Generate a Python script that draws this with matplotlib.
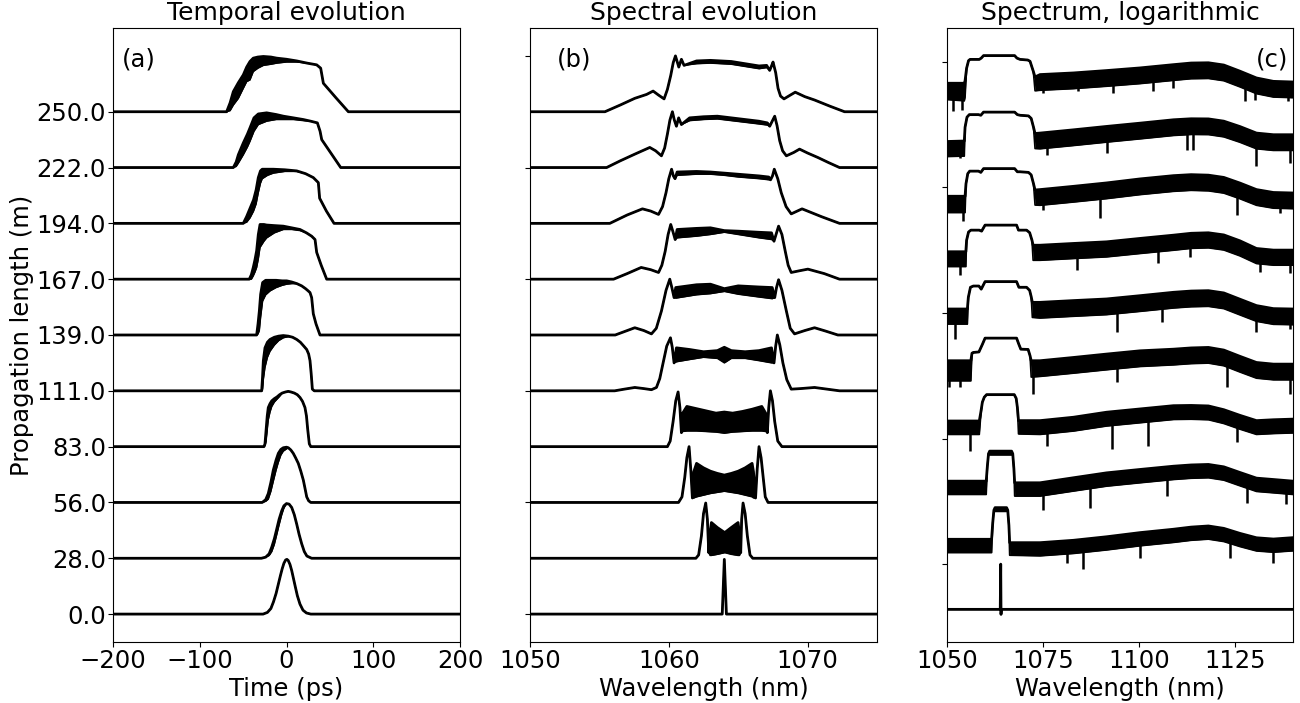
import numpy as np
import matplotlib
matplotlib.use("Agg")
import matplotlib.pyplot as plt

plt.rcParams['font.family'] = ['DejaVu Sans']
plt.rcParams['font.size'] = 17.5
plt.rcParams['axes.titlesize'] = 18
plt.rcParams['xtick.major.pad'] = 1.5
plt.rcParams['ytick.major.pad'] = 1.5

# propagation lengths (m) of the 10 traces, bottom to top
lengths = [0.0, 28.0, 56.0, 83.0, 111.0, 139.0, 167.0, 194.0, 222.0, 250.0]

# ---------------- (a) temporal evolution: time (ps), normalised power (upper / lower edge of the trace)
time_a = [
    [-200, -27, -22, -18, -15, -12, -9.5, -7, -5, -3, -1, 0.5, 2, 4, 6, 8, 10, 12.5, 15.5, 19, 23, 28, 200],
    [-200, -29, -24, -20, -17, -14, -11.3, -8.5, -5.5, -3, 0, 3, 6, 9, 11.8, 14.5, 17.5, 20.5, 23.5, 29, 200],
    [-200, -28, -24, -21, -18, -15.2, -12, -9.4, -6.5, -3.7, 0, 2.1, 5, 7.8, 10.5, 13.6, 16.5, 19.4, 21.5, 23.3, 25.5, 28, 200],
    [-200, -26, -24.8, -23.5, -22.2, -21, -19, -17, -14, -11, -8, -5, -1, 2, 5, 9, 12.5, 15.6, 18.5, 21.3, 23, 24.5, 26.3, 28, 200],
    [-200, -28.6, -27.6, -26.7, -24.8, -22, -19, -14, -9, -3.7, 2, 7, 11.8, 16, 20, 23.3, 25.5, 27.1, 28.5, 29.8, 32, 200],
    [-200, -34.4, -32.8, -31.3, -29.8, -27.5, -24, -19, -12, -5, 0.2, 6, 12, 17.5, 22, 25, 27.1, 29, 30.9, 34, 38.6, 200],
    [-200, -42.9, -40.5, -38.3, -36.3, -34.4, -32.5, -30.5, -26, -22.9, -14, -3.7, 6, 15.6, 23, 29, 32.9, 34.8, 40, 46.3, 200],
    [-200, -49.8, -46, -42, -38, -35, -32.5, -30, -28, -22, -15.2, -2, 11.8, 22, 30.9, 36.7, 38.2, 46, 54.8, 200],
    [-200, -61.3, -58, -55.5, -49.8, -45, -42.1, -37.5, -32.5, -22.9, -12, -3.6, 8, 19.4, 28, 35.6, 38.7, 40.6, 52, 62.5, 200],
    [-200, -69, -65, -61.3, -55.5, -49.8, -45.9, -42.1, -38.3, -33, -26.7, -18, -11.3, 0, 11.8, 24, 34.8, 39.4, 42.5, 57, 71.3, 200],
]
power_a_hi = [
    [0, 0, 0.03, 0.1, 0.22, 0.37, 0.53, 0.69, 0.81, 0.91, 0.97, 0.98, 0.96, 0.89, 0.78, 0.64, 0.5, 0.33, 0.18, 0.07, 0.02, 0, 0],
    [0, 0, 0.02, 0.08, 0.2, 0.35, 0.52, 0.7, 0.85, 0.94, 0.98, 0.97, 0.91, 0.78, 0.61, 0.43, 0.26, 0.12, 0.04, 0, 0],
    [0, 0, 0.05, 0.16, 0.36, 0.58, 0.76, 0.88, 0.95, 0.98, 0.99, 0.98, 0.94, 0.88, 0.8, 0.7, 0.56, 0.4, 0.24, 0.1, 0.03, 0, 0],
    [0, 0, 0.05, 0.3, 0.55, 0.7, 0.77, 0.82, 0.86, 0.89, 0.93, 0.96, 0.98, 0.99, 0.98, 0.96, 0.93, 0.88, 0.81, 0.7, 0.55, 0.3, 0.05, 0, 0],
    [0, 0, 0.25, 0.54, 0.77, 0.87, 0.92, 0.96, 0.98, 0.99, 0.98, 0.96, 0.92, 0.87, 0.8, 0.74, 0.66, 0.54, 0.3, 0.03, 0, 0],
    [0, 0, 0.2, 0.43, 0.73, 0.94, 0.98, 0.98, 0.98, 0.97, 0.97, 0.95, 0.92, 0.88, 0.83, 0.79, 0.76, 0.67, 0.38, 0.2, 0, 0],
    [0, 0, 0.08, 0.21, 0.35, 0.51, 0.8, 0.98, 0.98, 0.97, 0.96, 0.95, 0.92, 0.89, 0.83, 0.77, 0.71, 0.48, 0.25, 0, 0],
    [0, 0, 0.12, 0.27, 0.42, 0.6, 0.82, 0.94, 0.97, 0.97, 0.97, 0.96, 0.94, 0.89, 0.82, 0.73, 0.45, 0.22, 0, 0],
    [0, 0, 0.1, 0.23, 0.44, 0.6, 0.71, 0.89, 0.96, 0.98, 0.95, 0.92, 0.89, 0.86, 0.83, 0.8, 0.65, 0.5, 0.24, 0, 0],
    [0, 0, 0.16, 0.36, 0.52, 0.66, 0.8, 0.9, 0.96, 0.98, 0.99, 0.98, 0.96, 0.94, 0.91, 0.87, 0.84, 0.78, 0.51, 0.25, 0, 0],
]
power_a_lo = [
    [0, 0, 0.03, 0.1, 0.22, 0.37, 0.53, 0.69, 0.81, 0.91, 0.97, 0.98, 0.96, 0.89, 0.78, 0.64, 0.5, 0.33, 0.18, 0.07, 0.02, 0, 0],
    [0, 0, 0.02, 0.05, 0.12, 0.25, 0.42, 0.6, 0.78, 0.9, 0.98, 0.97, 0.91, 0.78, 0.61, 0.43, 0.26, 0.12, 0.04, 0, 0],
    [0, 0, 0.02, 0.06, 0.2, 0.38, 0.58, 0.72, 0.85, 0.92, 0.96, 0.98, 0.94, 0.88, 0.8, 0.7, 0.56, 0.4, 0.24, 0.1, 0.03, 0, 0],
    [0, 0, 0.02, 0.1, 0.3, 0.48, 0.62, 0.72, 0.8, 0.85, 0.9, 0.96, 0.98, 0.99, 0.98, 0.96, 0.93, 0.88, 0.81, 0.7, 0.55, 0.3, 0.05, 0, 0],
    [0, 0, 0.03, 0.2, 0.42, 0.6, 0.71, 0.82, 0.9, 0.95, 0.97, 0.96, 0.92, 0.87, 0.8, 0.74, 0.66, 0.54, 0.3, 0.03, 0, 0],
    [0, 0, 0.02, 0.08, 0.32, 0.61, 0.72, 0.79, 0.85, 0.89, 0.91, 0.92, 0.92, 0.88, 0.83, 0.79, 0.76, 0.67, 0.38, 0.2, 0, 0],
    [0, 0, 0, 0.06, 0.13, 0.21, 0.36, 0.57, 0.68, 0.74, 0.83, 0.89, 0.89, 0.87, 0.83, 0.77, 0.71, 0.48, 0.25, 0, 0],
    [0, 0, 0.02, 0.1, 0.22, 0.35, 0.55, 0.72, 0.8, 0.86, 0.9, 0.93, 0.93, 0.89, 0.82, 0.73, 0.45, 0.22, 0, 0],
    [0, 0, 0.02, 0.08, 0.23, 0.37, 0.47, 0.65, 0.77, 0.83, 0.86, 0.86, 0.86, 0.84, 0.83, 0.8, 0.65, 0.5, 0.24, 0, 0],
    [0, 0, 0.02, 0.12, 0.24, 0.42, 0.54, 0.57, 0.72, 0.78, 0.83, 0.85, 0.87, 0.89, 0.89, 0.87, 0.84, 0.78, 0.51, 0.25, 0, 0],
]

# ---------------- (b) spectral evolution: wavelength (nm), normalised spectrum (upper / lower edge)
wl_b = [
    [1050, 1063.85, 1064.0, 1064.15, 1075],
    [1050, 1061.95, 1062.15, 1062.35, 1062.5, 1062.66, 1062.78, 1062.88, 1062.97, 1063.07, 1063.5, 1064.03,
     1064.5, 1064.99, 1065.09, 1065.18, 1065.25, 1065.35, 1065.5, 1065.66, 1065.85, 1066.05, 1075],
    [1050, 1060.7, 1060.95, 1061.15, 1061.3, 1061.46, 1061.58, 1061.7, 1061.8, 1062.0, 1062.5, 1063.0, 1063.5,
     1064.0, 1064.5, 1065.0, 1065.5, 1066.0, 1066.1, 1066.25, 1066.37, 1066.5, 1066.65, 1066.8, 1066.95, 1067.15, 1075],
    [1050, 1059.9, 1060.1, 1060.31, 1060.5, 1060.67, 1060.8, 1060.91, 1061.0, 1061.3, 1062.0, 1062.7, 1063.4,
     1064.0, 1064.6, 1065.3, 1066.0, 1066.7, 1066.98, 1067.1, 1067.2, 1067.32, 1067.47, 1067.63, 1067.85, 1068.15, 1075],
    [1050, 1056.1, 1056.8, 1057.55, 1058.2, 1058.75, 1059.11, 1059.35, 1059.59, 1059.85, 1060.12, 1060.25, 1060.38,
     1060.55, 1061.5, 1062.5, 1063.5, 1064.0, 1064.5, 1065.5, 1066.5, 1067.4, 1067.58, 1067.7, 1067.82, 1068.0,
     1068.22, 1068.5, 1068.82, 1069.5, 1070.5, 1071.4, 1072.3, 1075],
    [1050, 1056.14, 1056.9, 1057.55, 1058.2, 1058.75, 1059.1, 1059.47, 1059.8, 1060.07, 1060.22, 1060.38, 1060.5,
     1062.0, 1063.0, 1064.0, 1065.0, 1066.5, 1067.45, 1067.63, 1067.76, 1067.91, 1068.15, 1068.47, 1068.75, 1069.06,
     1069.8, 1070.5, 1071.3, 1072.18, 1075],
    [1050, 1056.02, 1057.0, 1058.01, 1058.7, 1059.26, 1059.5, 1059.74, 1059.95, 1060.14, 1060.3, 1060.46, 1060.6,
     1062.0, 1063.0, 1064.0, 1065.0, 1066.5, 1067.4, 1067.58, 1067.75, 1067.91, 1068.15, 1068.39, 1068.6, 1068.82,
     1069.4, 1070.02, 1071.2, 1072.3, 1075],
    [1050, 1055.75, 1057.0, 1058.1, 1058.7, 1059.26, 1059.55, 1059.8, 1060.0, 1060.2, 1060.33, 1060.45, 1060.6,
     1062.0, 1063.0, 1064.0, 1065.0, 1066.5, 1067.2, 1067.33, 1067.47, 1067.6, 1067.85, 1068.1, 1068.45, 1068.82,
     1069.6, 1071.0, 1072.3, 1075],
    [1050, 1055.52, 1056.5, 1057.55, 1058.63, 1059.05, 1059.47, 1059.7, 1059.9, 1060.08, 1060.26, 1060.4, 1060.55,
     1060.71, 1060.91, 1061.5, 1062.5, 1063.5, 1064.5, 1065.5, 1066.5, 1067.1, 1067.27, 1067.45, 1067.63, 1067.8,
     1067.99, 1068.2, 1068.47, 1069.0, 1069.42, 1070.0, 1070.74, 1071.5, 1072.3, 1075],
    [1050, 1055.4, 1056.5, 1057.55, 1058.4, 1058.87, 1059.25, 1059.66, 1059.9, 1060.14, 1060.32, 1060.48, 1060.6,
     1060.72, 1060.91, 1061.1, 1062.0, 1063.0, 1064.5, 1065.5, 1066.5, 1067.05, 1067.27, 1067.4, 1067.51, 1067.7,
     1067.87, 1068.05, 1068.3, 1068.7, 1069.11, 1069.8, 1070.5, 1071.6, 1072.66, 1075],
]
spec_b_hi = [
    [0, 0, 0.98, 0, 0],
    [0, 0, 0.06, 0.4, 0.8, 0.99, 0.7, 0.1, 0.45, 0.64, 0.55, 0.46, 0.55, 0.64, 0.45, 0.1, 0.7, 0.99, 0.8, 0.4, 0.06, 0, 0],
    [0, 0, 0.1, 0.45, 0.8, 1.0, 0.6, 0.08, 0.55, 0.7, 0.62, 0.56, 0.52, 0.49, 0.52, 0.56, 0.62, 0.7, 0.55, 0.08,
     0.6, 1.0, 0.8, 0.45, 0.1, 0, 0],
    [0, 0, 0.1, 0.45, 0.82, 0.98, 0.7, 0.25, 0.6, 0.72, 0.68, 0.64, 0.6, 0.62, 0.6, 0.63, 0.67, 0.72, 0.6, 0.25,
     0.7, 1.0, 0.82, 0.45, 0.1, 0, 0],
    [0, 0, 0.03, 0.06, 0.04, 0.02, 0.06, 0.22, 0.5, 0.8, 0.95, 0.78, 0.5, 0.77, 0.74, 0.7, 0.72, 0.78, 0.72, 0.7,
     0.72, 0.77, 0.5, 0.8, 1.0, 0.82, 0.5, 0.2, 0.03, 0.04, 0.06, 0.03, 0, 0],
    [0, 0, 0.07, 0.13, 0.08, 0.02, 0.12, 0.43, 0.8, 1.0, 0.85, 0.67, 0.85, 0.9, 0.91, 0.83, 0.88, 0.86, 0.85, 0.67,
     0.85, 0.99, 0.8, 0.43, 0.12, 0.02, 0.08, 0.13, 0.07, 0, 0],
    [0, 0, 0.1, 0.21, 0.17, 0.12, 0.25, 0.5, 0.8, 0.98, 0.85, 0.71, 0.89, 0.91, 0.92, 0.87, 0.86, 0.84, 0.83, 0.68,
     0.82, 0.95, 0.8, 0.5, 0.25, 0.12, 0.15, 0.18, 0.1, 0, 0],
    [0, 0, 0.15, 0.26, 0.22, 0.16, 0.3, 0.55, 0.8, 0.97, 0.85, 0.8, 0.92, 0.93, 0.92, 0.9, 0.88, 0.85, 0.83, 0.78,
     0.85, 0.97, 0.8, 0.55, 0.3, 0.17, 0.26, 0.12, 0, 0],
    [0, 0, 0.12, 0.24, 0.36, 0.3, 0.21, 0.35, 0.6, 0.85, 1.0, 0.85, 0.74, 0.89, 0.77, 0.89, 0.91, 0.92, 0.89, 0.86,
     0.83, 0.8, 0.74, 0.83, 0.92, 0.75, 0.48, 0.3, 0.21, 0.27, 0.33, 0.26, 0.18, 0.09, 0, 0],
    [0, 0, 0.12, 0.24, 0.31, 0.37, 0.3, 0.23, 0.4, 0.65, 0.88, 1.0, 0.9, 0.8, 0.94, 0.83, 0.91, 0.92, 0.9, 0.86,
     0.82, 0.83, 0.74, 0.82, 0.89, 0.7, 0.42, 0.28, 0.23, 0.29, 0.35, 0.27, 0.21, 0.1, 0, 0],
]
spec_b_lo = [
    [0, 0, 0.98, 0, 0],
    [0, 0, 0.06, 0.4, 0.8, 0.99, 0.7, 0.1, 0.05, 0.05, 0.07, 0.1, 0.07, 0.05, 0.05, 0.1, 0.7, 0.99, 0.8, 0.4, 0.06, 0, 0],
    [0, 0, 0.1, 0.45, 0.8, 1.0, 0.6, 0.08, 0.08, 0.1, 0.13, 0.16, 0.18, 0.2, 0.18, 0.16, 0.13, 0.1, 0.08, 0.08,
     0.6, 1.0, 0.8, 0.45, 0.1, 0, 0],
    [0, 0, 0.1, 0.45, 0.82, 0.98, 0.7, 0.25, 0.27, 0.28, 0.28, 0.27, 0.26, 0.24, 0.26, 0.27, 0.28, 0.28, 0.27, 0.25,
     0.7, 1.0, 0.82, 0.45, 0.1, 0, 0],
    [0, 0, 0.03, 0.06, 0.04, 0.02, 0.06, 0.22, 0.5, 0.8, 0.95, 0.78, 0.5, 0.52, 0.56, 0.6, 0.58, 0.5, 0.58, 0.58,
     0.54, 0.5, 0.5, 0.8, 1.0, 0.82, 0.5, 0.2, 0.03, 0.04, 0.06, 0.03, 0, 0],
    [0, 0, 0.07, 0.13, 0.08, 0.02, 0.12, 0.43, 0.8, 1.0, 0.85, 0.67, 0.66, 0.72, 0.74, 0.78, 0.73, 0.68, 0.65, 0.67,
     0.85, 0.99, 0.8, 0.43, 0.12, 0.02, 0.08, 0.13, 0.07, 0, 0],
    [0, 0, 0.1, 0.21, 0.17, 0.12, 0.25, 0.5, 0.8, 0.98, 0.85, 0.71, 0.74, 0.77, 0.8, 0.84, 0.8, 0.74, 0.71, 0.68,
     0.82, 0.95, 0.8, 0.5, 0.25, 0.12, 0.15, 0.18, 0.1, 0, 0],
    [0, 0, 0.15, 0.26, 0.22, 0.16, 0.3, 0.55, 0.8, 0.97, 0.85, 0.8, 0.86, 0.88, 0.88, 0.86, 0.83, 0.8, 0.78, 0.78,
     0.85, 0.97, 0.8, 0.55, 0.3, 0.17, 0.26, 0.12, 0, 0],
    [0, 0, 0.12, 0.24, 0.36, 0.3, 0.21, 0.35, 0.6, 0.85, 1.0, 0.85, 0.74, 0.89, 0.77, 0.84, 0.86, 0.87, 0.84, 0.81,
     0.78, 0.76, 0.74, 0.83, 0.92, 0.75, 0.48, 0.3, 0.21, 0.27, 0.33, 0.26, 0.18, 0.09, 0, 0],
    [0, 0, 0.12, 0.24, 0.31, 0.37, 0.3, 0.23, 0.4, 0.65, 0.88, 1.0, 0.9, 0.8, 0.94, 0.83, 0.86, 0.87, 0.85, 0.81,
     0.77, 0.79, 0.74, 0.82, 0.89, 0.7, 0.42, 0.28, 0.23, 0.29, 0.35, 0.27, 0.21, 0.1, 0, 0],
]

# ---------------- (c) logarithmic spectrum: levels in dB relative to each trace's peak
db_step = 45
# pump part of every trace (wavelength, level, noise-band depth)
wl_c_pump = [
    [1050, 1063.85, 1063.97, 1064.05, 1064.12, 1140],
    [1050, 1061.6, 1061.9, 1062.2, 1062.5, 1065.5, 1065.8, 1066.1, 1066.3],
    [1050, 1060.2, 1060.5, 1060.8, 1061.1, 1066.8, 1067.1, 1067.4, 1067.6],
    [1050, 1058.4, 1058.8, 1059.2, 1059.7, 1060.3, 1067.5, 1068.0, 1068.3, 1068.6],
    [1050, 1056.2, 1056.5, 1056.85, 1058.3, 1059.2, 1059.9, 1068.1, 1068.7, 1069.2, 1071.1, 1071.6, 1071.9],
    [1050, 1055.3, 1055.55, 1056.1, 1056.85, 1058.3, 1058.9, 1059.9, 1068.1, 1068.7, 1070.7, 1071.5, 1071.9, 1072.2],
    [1050, 1054.9, 1055.1, 1055.6, 1056.2, 1058.4, 1059.0, 1059.9, 1068.1, 1068.6, 1070.7, 1071.5, 1072.1, 1072.4],
    [1050, 1054.7, 1054.94, 1055.4, 1055.9, 1058.2, 1058.8, 1059.5, 1067.6, 1068.3, 1069.0, 1071.2, 1071.9, 1072.5, 1072.9],
    [1050, 1054.5, 1054.7, 1055.2, 1055.8, 1058.2, 1058.8, 1059.5, 1067.6, 1068.3, 1069.0, 1071.2, 1071.9, 1072.5, 1072.9],
    [1050, 1054.5, 1054.7, 1055.1, 1055.6, 1056.0, 1058.4, 1058.9, 1059.5, 1067.6, 1068.2, 1069.0, 1071.0, 1071.6,
     1072.45, 1072.9],
]
level_c_pump = [
    [-36, -36, 0, -40, -36, -36],
    [-25.2, -25.2, -12, -2, 0, 0, -2, -14, -27.9],
    [-23.9, -23.9, -12, -2, 0, 0, -2, -14, -25.2],
    [-21, -21, -14, -6, -2, 0, 0, -3, -10, -20.7],
    [-18, -18, -12, -11.4, -11, -5, 0, 0, -5, -8.8, -9, -14, -18],
    [-21.8, -21.8, -12.5, -4.5, -3.5, -3.5, -6, 0, 0, -4.5, -4.5, -7, -12, -16.5],
    [-21.2, -21.2, -12, -5.5, -4, -4, -4.8, 0, 0, -4, -4, -6, -12, -16],
    [-22, -22, -12, -4, -2, -2, -3, 0, 0, -2.5, -2.5, -3, -5, -12, -17],
    [-23.4, -23, -12, -4, -2, -2, -2.5, 0, 0, -2, -2.5, -3, -5, -12, -17],
    [-22, -22, -20, -10, -4, -3, -3, -2, 0, 0, -2, -3, -3.5, -4.5, -12.5, -17],
]
depth_c_pump = [
    [0, 0, 0, 0, 0, 0],
    [10.6, 10.6, 0, 0, 3, 3, 0, 0, 10],
    [10.6, 10.6, 0, 0, 3, 3, 0, 0, 10.6],
    [10.7, 10.7, 2, 0, 0, 0, 0, 0, 0, 10.6],
    [16, 16, 0, 0, 0, 0, 0, 0, 0, 0, 0, 0, 13],
    [12, 12, 0, 0, 0, 0, 0, 0, 0, 0, 0, 0, 0, 12],
    [11.8, 11.8, 0, 0, 0, 0, 0, 0, 0, 0, 0, 0, 0, 12],
    [13, 13, 0, 0, 0, 0, 0, 0, 0, 0, 0, 0, 0, 0, 12],
    [12, 12, 0, 0, 0, 0, 0, 0, 0, 0, 0, 0, 0, 0, 12],
    [13, 14, 13, 0, 0, 0, 0, 0, 0, 0, 0, 0, 0, 0, 0, 11],
]
# broadband (noise) part: shared wavelengths, per-trace upper level and band thickness
wl_c_broad = [1074.2, 1082.9, 1091.5, 1100.2, 1108.9, 1113.5, 1118, 1122, 1126.2, 1130.5, 1134.9, 1140]
level_c_broad = [
    None,
    [-27.9, -26, -23.2, -19.9, -17.2, -15.5, -14.6, -16.5, -20.5, -24, -25, -23.9],
    [-25.2, -21.2, -17.3, -14.6, -12, -11, -10.6, -12.5, -17, -21.5, -22.6, -23.9],
    [-20.7, -18, -14, -11.4, -8.8, -8.6, -9, -12, -16.5, -20.7, -20, -19.5],
    [-18, -15.4, -12.7, -10.1, -8.8, -7.8, -7.4, -9.5, -14.5, -19.4, -20.7, -20.7],
    [-16.5, -15.1, -13.8, -11.2, -8.5, -7.5, -7.2, -9, -14, -19.1, -21.5, -21.8],
    [-16, -14.6, -13.3, -10.6, -8, -6.5, -6.1, -7.8, -12.5, -18.6, -19.9, -19.9],
    [-16.7, -14.1, -11.4, -8.2, -5.6, -4.8, -5.2, -7, -11.5, -16.7, -19, -19.4],
    [-16.7, -14.1, -11.4, -8.8, -6.1, -5.3, -5.4, -7.2, -11.5, -16.7, -18, -18],
    [-15.1, -13.8, -11.9, -9.8, -7.2, -5.9, -5.7, -7.5, -12.4, -17.8, -20.5, -21],
]
band_c_broad = [0, 10.5, 10.6, 11, 12.5, 12.5, 12, 12.5, 12.5, 12.5]
# deepest dips reaching below the noise band
spike_wl_c = [
    [],
    [1081.1, 1085.5, 1100.2, 1123.6, 1134.9],
    [1075.05, 1087.2, 1107.1, 1128, 1138.3],
    [1055.98, 1075.9, 1092.8, 1102.3, 1125.4],
    [1050.5, 1053.4, 1072.45, 1094.1, 1122.8, 1139.2],
    [1052.1, 1094.1, 1105.8, 1130.5, 1139.2],
    [1053.4, 1083.7, 1104.9, 1113.2, 1131.4, 1139.2],
    [1054.25, 1075.05, 1089.8, 1125.4, 1136.6],
    [1050.8, 1053.4, 1075.9, 1091.5, 1112.3, 1114.1, 1130.5, 1139.2],
    [1051.65, 1053.8, 1075.05, 1084.2, 1093.3, 1103.7, 1108.9, 1127.5, 1130.2, 1138.8],
]
spike_level_c = [
    [],
    [-43.8, -49, -39.8, -40, -43.8],
    [-46.5, -45, -35.9, -41.2, -42],
    [-45, -40.6, -43, -40.6, -37.9],
    [-39.3, -39, -44.6, -35.3, -39.3, -44.6],
    [-45.7, -40.4, -32.4, -40.4, -37.7],
    [-39.8, -35.9, -30.5, -25.2, -37.2, -38.5],
    [-42, -32.7, -39.3, -36.7, -35.3],
    [-35.3, -36.7, -34, -32.7, -30, -30, -43.3, -40.6],
    [-44.4, -43, -29.7, -28.4, -29.7, -28.4, -25.8, -36.4, -35, -36.4],
]

fig = plt.figure(figsize=(13, 7.03), dpi=100)
W, H = 1300, 703
ax_a = fig.add_axes([113 / W, 61 / H, 347 / W, 614 / H])
ax_b = fig.add_axes([530 / W, 61 / H, 347 / W, 614 / H])
ax_c = fig.add_axes([947 / W, 61 / H, 346 / W, 614 / H])

# (a)
for i in range(len(lengths)):
    t = np.array(time_a[i])
    hi = i + np.array(power_a_hi[i])
    lo = i + np.array(power_a_lo[i])
    ax_a.fill_between(t, lo, hi, color='k', lw=0)
    ax_a.plot(t, hi, color='k', lw=2)
    ax_a.plot(t, lo, color='k', lw=1)
ax_a.set_xlim(-200, 200)
ax_a.set_ylim(-0.5, 10.5)
ax_a.set_xticks([-200, -100, 0, 100, 200])
ax_a.set_yticks(range(len(lengths)))
ax_a.set_yticklabels([f'{v:.1f}' for v in lengths])
ax_a.set_xlabel('Time (ps)', labelpad=3)
ax_a.set_ylabel('Propagation length (m)', labelpad=2)
ax_a.set_title('Temporal evolution')
ax_a.text(0.025, 0.948, '(a)', transform=ax_a.transAxes, va='center', ha='left')

# (b)
for i in range(len(lengths)):
    w = np.array(wl_b[i])
    hi = i + np.array(spec_b_hi[i])
    lo = i + np.array(spec_b_lo[i])
    ax_b.fill_between(w, lo, hi, color='k', lw=0)
    ax_b.plot(w, hi, color='k', lw=2)
    ax_b.plot(w, lo, color='k', lw=1)
ax_b.set_xlim(1050, 1075)
ax_b.set_ylim(-0.5, 10.5)
ax_b.set_xticks([1050, 1060, 1070])
ax_b.tick_params(labelleft=False)
ax_b.set_xlabel('Wavelength (nm)', labelpad=3)
ax_b.set_title('Spectral evolution')
ax_b.text(0.078, 0.948, '(b)', transform=ax_b.transAxes, va='center', ha='left')

# (c)
for i in range(len(lengths)):
    w = list(wl_c_pump[i])
    lev = list(level_c_pump[i])
    dep = list(depth_c_pump[i])
    if level_c_broad[i] is not None:
        w += wl_c_broad
        lev += level_c_broad[i]
        dep += [band_c_broad[i]] * len(wl_c_broad)
    w = np.array(w)
    top = i * db_step + np.array(lev)
    bot = top - np.array(dep)
    ax_c.fill_between(w, bot, top, color='k', lw=0)
    ax_c.plot(w, top, color='k', lw=2)
    ax_c.plot(w, bot, color='k', lw=1.2)
    if spike_wl_c[i]:
        sx = np.array(spike_wl_c[i])
        ax_c.vlines(sx, i * db_step + np.array(spike_level_c[i]), np.interp(sx, w, bot) + 2,
                    color='k', lw=1.8)
ax_c.set_xlim(1050, 1140)
ax_c.set_ylim(-62, 427)
ax_c.set_xticks([1050, 1075, 1100, 1125])
ax_c.tick_params(labelleft=False)
ax_c.set_xlabel('Wavelength (nm)', labelpad=3)
ax_c.set_title('Spectrum, logarithmic')
ax_c.text(0.985, 0.948, '(c)', transform=ax_c.transAxes, va='center', ha='right')

fig.savefig('out.png', dpi=100)
